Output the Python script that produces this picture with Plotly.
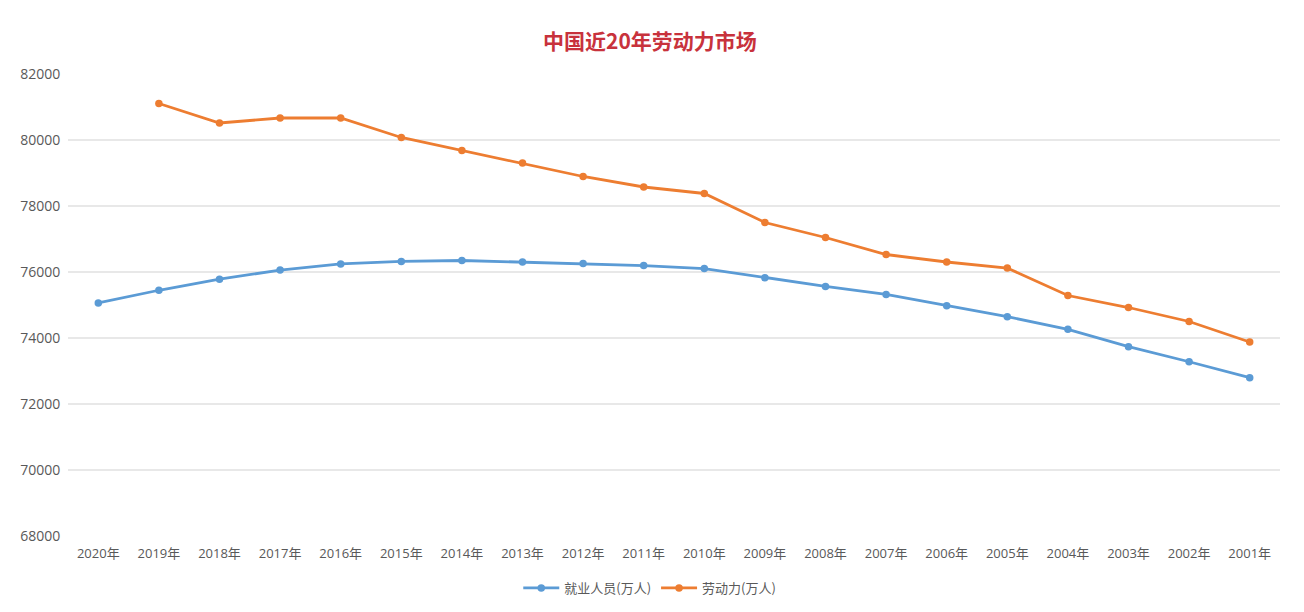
import plotly.graph_objects as go

years = ["2020年", "2019年", "2018年", "2017年", "2016年", "2015年", "2014年", "2013年", "2012年", "2011年",
         "2010年", "2009年", "2008年", "2007年", "2006年", "2005年", "2004年", "2003年", "2002年", "2001年"]
employed = [75064, 75447, 75782, 76058, 76245, 76320, 76349, 76301, 76254, 76196,
            76105, 75828, 75564, 75321, 74978, 74647, 74264, 73736, 73280, 72797]
labor = [None, 81106, 80515, 80667, 80667, 80076, 79682, 79303, 78894, 78576,
         78379, 77500, 77045, 76530, 76303, 76121, 75288, 74924, 74500, 73879]
y_ticks = [68000, 70000, 72000, 74000, 76000, 78000, 80000, 82000]

fig = go.Figure()
fig.add_trace(go.Scatter(x=years, y=employed, name="就业人员(万人)", mode="lines+markers",
                         line=dict(color="#5b9bd5", width=2.8), marker=dict(size=7.5, color="#5b9bd5")))
fig.add_trace(go.Scatter(x=years, y=labor, name="劳动力(万人)", mode="lines+markers",
                         line=dict(color="#ed7d31", width=2.8), marker=dict(size=7.5, color="#ed7d31")))

fig.update_layout(
    width=1304, height=612,
    paper_bgcolor="white", plot_bgcolor="white",
    margin=dict(l=60, r=32, t=66, b=84, autoexpand=False),
    title=dict(text="<b>中国近20年劳动力市场</b>", x=0.4923, xanchor="center", y=1 - 34 / 612, yanchor="middle",
               font=dict(family="Noto Sans CJK SC", size=21, color="#c8323c")),
    font=dict(family="Open Sans, Noto Sans CJK SC", color="#595959", size=13),
    legend=dict(orientation="h", x=0.48, xanchor="center", y=-0.08, yanchor="top",
                font=dict(family="Noto Sans CJK SC", size=13, color="#595959"), itemwidth=36),
    showlegend=True,
)
fig.update_xaxes(type="category", range=[-0.5, 19.5], showgrid=False, showline=False,
                 ticks="outside", ticklen=5, tickcolor="rgba(0,0,0,0)",
                 tickfont=dict(family="Open Sans, Noto Sans CJK SC", size=13, color="#595959"))
fig.update_yaxes(range=[68000, 82000], tickvals=y_ticks, ticktext=[str(v) for v in y_ticks],
                 showgrid=True, gridcolor="#e8e8e8", gridwidth=1.5, zeroline=False, showline=False,
                 ticks="outside", ticklen=4, tickcolor="rgba(0,0,0,0)",
                 tickfont=dict(family="Open Sans", size=14, color="#595959"))
fig.write_html("out.html")
